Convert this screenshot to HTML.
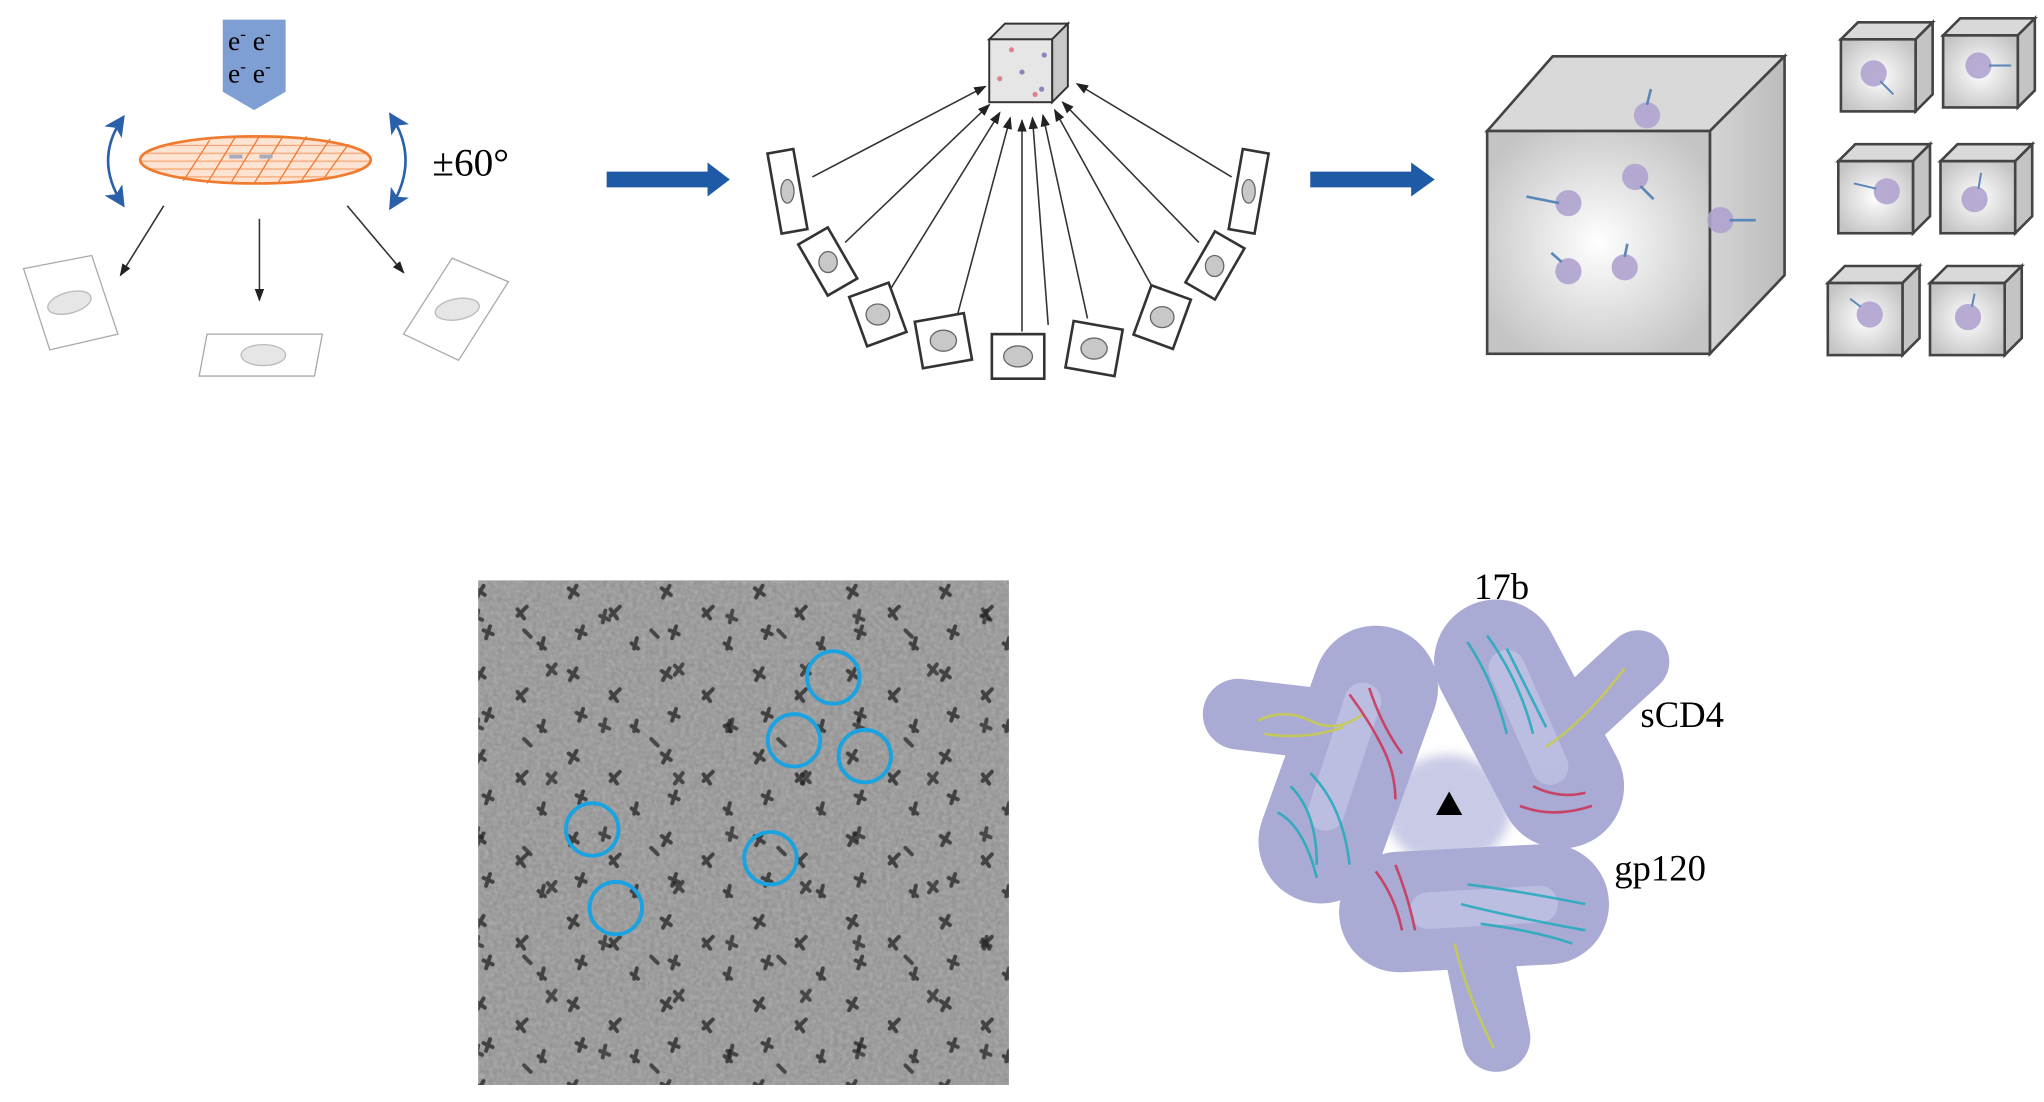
<!DOCTYPE html>
<html><head><meta charset="utf-8"><style>
html,body{margin:0;padding:0;background:#fff;width:2044px;height:1102px;overflow:hidden}
svg{display:block}
text{font-family:"Liberation Serif",serif}
</style></head><body>
<svg width="2044" height="1102" viewBox="0 0 1560 841" preserveAspectRatio="none" xmlns="http://www.w3.org/2000/svg">
<defs>
<pattern id="hatch" width="10" height="6" patternUnits="userSpaceOnUse">
<rect width="10" height="6" fill="#fde3d2"/><line x1="0" y1="3" x2="10" y2="3" stroke="#f6a878" stroke-width="1"/>
</pattern>
<radialGradient id="cg" cx="50%" cy="50%" r="60%"><stop offset="0" stop-color="#fff"/><stop offset="1" stop-color="#c4c4c4"/></radialGradient>
<linearGradient id="side" x1="0" x2="1"><stop offset="0" stop-color="#d4d4d4"/><stop offset="1" stop-color="#bcbcbc"/></linearGradient>
<marker id="ah" markerWidth="8" markerHeight="8" refX="7" refY="4" orient="auto"><path d="M0,1 L8,4 L0,7z" fill="#222"/></marker>
<marker id="bh" markerWidth="8" markerHeight="8" refX="6" refY="4" orient="auto-start-reverse"><path d="M0,0 L8,4 L0,8 L2,4z" fill="#2a5faa"/></marker>
<filter id="noise" x="0" y="0" width="100%" height="100%">
<feTurbulence type="fractalNoise" baseFrequency="0.3" numOctaves="2" seed="3"/>
<feColorMatrix type="matrix" values="0 0 0 0 0.5  0 0 0 0 0.5  0 0 0 0 0.5  0.9 0 0 0 -0.2"/>
</filter>
<filter id="soft"><feGaussianBlur stdDeviation="4"/></filter>
<pattern id="parts" width="71" height="63" patternUnits="userSpaceOnUse">
<g stroke="#1a1a1a" stroke-width="3" stroke-linecap="round">
<path d="M8,8 l7,5 M14,6 l-5,9"/><path d="M40,24 l5,7 M47,22 l-7,7"/>
<path d="M14,40 l7,3 M19,37 l-3,9"/><path d="M56,50 l5,4 M60,46 l-2,8"/>
</g></pattern>
<pattern id="parts2" width="97" height="83" patternUnits="userSpaceOnUse">
<g stroke="#222" stroke-width="3" stroke-linecap="round">
<path d="M30,10 l6,6 M36,9 l-6,8"/><path d="M70,55 l7,3 M74,51 l-2,9"/><path d="M12,66 l5,5"/>
</g></pattern>
</defs>

<!-- e- beam -->
<path d="M170,15 H218 V70 L194,84 L170,70 Z" fill="#7f9fd4"/>
<text x="174" y="38" font-size="21">e<tspan dy="-8" font-size="13">-</tspan><tspan dy="8"> e</tspan><tspan dy="-8" font-size="13">-</tspan></text>
<text x="174" y="63" font-size="21">e<tspan dy="-8" font-size="13">-</tspan><tspan dy="8"> e</tspan><tspan dy="-8" font-size="13">-</tspan></text>
<!-- grid -->
<ellipse cx="195" cy="122" rx="88" ry="18" fill="url(#hatch)" stroke="#f07a30" stroke-width="2"/>
<g stroke="#f07a30" stroke-width="1"><path d="M140,138 L160,107 M158,140 L180,104 M176,140 L198,104 M194,140 L216,104 M212,140 L234,104 M230,138 L252,106 M248,135 L266,110"/></g>
<rect x="175" y="118" width="10" height="3" fill="#aab"/><rect x="198" y="118" width="10" height="3" fill="#aab"/>
<!-- rotation arrows -->
<path d="M93,91 Q72,122 93,155" fill="none" stroke="#2a5faa" stroke-width="2" marker-start="url(#bh)" marker-end="url(#bh)"/>
<path d="M299,89 Q320,122 299,157" fill="none" stroke="#2a5faa" stroke-width="2" marker-start="url(#bh)" marker-end="url(#bh)"/>
<text x="330" y="134" font-size="30">±60°</text>
<!-- projection lines -->
<g stroke="#333" stroke-width="1.2" marker-end="url(#ah)"><line x1="125" y1="157" x2="92" y2="210"/><line x1="198" y1="167" x2="198" y2="229"/><line x1="265" y1="157" x2="308" y2="208"/></g>
<g fill="none" stroke="#aaa" stroke-width="1"><path d="M18,205 L70,195 L90,255 L38,267Z"/><path d="M158,255 L246,255 L240,287 L152,287Z"/><path d="M345,197 L388,215 L350,275 L308,255Z"/></g>
<g fill="#e6e6e6" stroke="#bbb"><ellipse cx="53" cy="231" rx="17" ry="8" transform="rotate(-15 53 231)"/><ellipse cx="201" cy="271" rx="17" ry="8"/><ellipse cx="349" cy="236" rx="17" ry="8" transform="rotate(-10 349 236)"/></g>
<!-- blue arrows -->
<path d="M463,131 H540 V124 L557,137 L540,150 V143 H463Z" fill="#1f5aa6"/>
<path d="M1000,131 H1077 V124 L1095,137 L1077,150 V143 H1000Z" fill="#1f5aa6"/>
<!-- small cube -->
<g stroke="#333" stroke-width="1.5" fill="#e6e6e6"><path d="M755,30 L767,18 L815,18 L803,30Z" fill="#ddd"/><path d="M803,30 L815,18 L815,66 L803,78Z" fill="#c8c8c8"/><rect x="755" y="30" width="48" height="48"/></g>
<g fill="#d88"><circle cx="763" cy="60" r="2"/><circle cx="790" cy="72" r="2"/><circle cx="772" cy="38" r="2"/></g>
<g fill="#88b"><circle cx="797" cy="42" r="2"/><circle cx="780" cy="55" r="2"/><circle cx="795" cy="68" r="2"/></g>
<!-- fan -->
<g stroke="#333" stroke-width="1.2" marker-end="url(#ah)">
<line x1="620" y1="135" x2="752" y2="66"/><line x1="645" y1="185" x2="755" y2="80"/><line x1="680" y1="220" x2="763" y2="86"/><line x1="730" y1="243" x2="771" y2="90"/><line x1="780" y1="253" x2="780" y2="92"/><line x1="800" y1="248" x2="788" y2="90"/><line x1="830" y1="243" x2="796" y2="88"/><line x1="880" y1="220" x2="805" y2="84"/><line x1="915" y1="185" x2="811" y2="78"/><line x1="940" y1="135" x2="822" y2="64"/></g>
<g fill="#fff" stroke="#333" stroke-width="2">
<rect x="591" y="115" width="20" height="62" transform="rotate(-10 601 146)"/>
<rect x="619" y="177" width="26" height="45" transform="rotate(-30 632 200)"/>
<rect x="654" y="220" width="32" height="40" transform="rotate(-20 670 240)"/>
<rect x="701" y="242" width="38" height="36" transform="rotate(-10 720 260)"/>
<rect x="757" y="255" width="40" height="34"/>
<rect x="816" y="248" width="38" height="36" transform="rotate(10 835 266)"/>
<rect x="871" y="222" width="32" height="40" transform="rotate(20 887 242)"/>
<rect x="914" y="180" width="26" height="45" transform="rotate(30 927 203)"/>
<rect x="943" y="115" width="20" height="62" transform="rotate(10 953 146)"/></g>
<g fill="#c8c8c8" stroke="#666"><ellipse cx="601" cy="146" rx="5" ry="9"/><ellipse cx="632" cy="200" rx="7" ry="8"/><ellipse cx="670" cy="240" rx="9" ry="8"/><ellipse cx="720" cy="260" rx="10" ry="8"/><ellipse cx="777" cy="272" rx="11" ry="8"/><ellipse cx="835" cy="266" rx="10" ry="8"/><ellipse cx="887" cy="242" rx="9" ry="8"/><ellipse cx="927" cy="203" rx="7" ry="8"/><ellipse cx="953" cy="146" rx="5" ry="9"/></g>
<!-- big cube -->
<g stroke="#444" stroke-width="2"><path d="M1135,100 L1185,43 L1362,43 L1305,100Z" fill="#d9d9d9"/><path d="M1305,100 L1362,43 L1362,210 L1305,270Z" fill="url(#side)"/><rect x="1135" y="100" width="170" height="170" fill="url(#cg)"/></g>
<g fill="#b0a3d0" opacity="0.9"><circle cx="1257" cy="88" r="10"/><circle cx="1248" cy="135" r="10"/><circle cx="1197" cy="207" r="10"/><circle cx="1240" cy="204" r="10"/><circle cx="1313" cy="168" r="10"/><circle cx="1197" cy="155" r="10"/></g>
<g stroke="#5a86b8" stroke-width="2"><line x1="1257" y1="80" x2="1260" y2="68"/><line x1="1190" y1="155" x2="1165" y2="150"/><line x1="1320" y1="168" x2="1340" y2="168"/><line x1="1252" y1="142" x2="1262" y2="152"/><line x1="1192" y1="200" x2="1184" y2="193"/><line x1="1240" y1="196" x2="1242" y2="186"/></g>
<!-- small cubes -->
<g stroke="#444" stroke-width="2">
<g><path d="M1405,30 L1418,17 L1475,17 L1462,30Z" fill="#d9d9d9"/><path d="M1462,30 L1475,17 L1475,72 L1462,85Z" fill="#c4c4c4"/><rect x="1405" y="30" width="57" height="55" fill="url(#cg)"/></g>
<g transform="translate(78,-3)"><path d="M1405,30 L1418,17 L1475,17 L1462,30Z" fill="#d9d9d9"/><path d="M1462,30 L1475,17 L1475,72 L1462,85Z" fill="#c4c4c4"/><rect x="1405" y="30" width="57" height="55" fill="url(#cg)"/></g>
<g transform="translate(-2,93)"><path d="M1405,30 L1418,17 L1475,17 L1462,30Z" fill="#d9d9d9"/><path d="M1462,30 L1475,17 L1475,72 L1462,85Z" fill="#c4c4c4"/><rect x="1405" y="30" width="57" height="55" fill="url(#cg)"/></g>
<g transform="translate(76,93)"><path d="M1405,30 L1418,17 L1475,17 L1462,30Z" fill="#d9d9d9"/><path d="M1462,30 L1475,17 L1475,72 L1462,85Z" fill="#c4c4c4"/><rect x="1405" y="30" width="57" height="55" fill="url(#cg)"/></g>
<g transform="translate(-10,186)"><path d="M1405,30 L1418,17 L1475,17 L1462,30Z" fill="#d9d9d9"/><path d="M1462,30 L1475,17 L1475,72 L1462,85Z" fill="#c4c4c4"/><rect x="1405" y="30" width="57" height="55" fill="url(#cg)"/></g>
<g transform="translate(68,186)"><path d="M1405,30 L1418,17 L1475,17 L1462,30Z" fill="#d9d9d9"/><path d="M1462,30 L1475,17 L1475,72 L1462,85Z" fill="#c4c4c4"/><rect x="1405" y="30" width="57" height="55" fill="url(#cg)"/></g>
</g>
<g fill="#b0a3d0" opacity="0.9"><circle cx="1430" cy="56" r="10"/><circle cx="1510" cy="50" r="10"/><circle cx="1440" cy="146" r="10"/><circle cx="1507" cy="152" r="10"/><circle cx="1427" cy="240" r="10"/><circle cx="1502" cy="242" r="10"/></g>
<g stroke="#5a86b8" stroke-width="1.5"><line x1="1435" y1="62" x2="1445" y2="72"/><line x1="1518" y1="50" x2="1535" y2="50"/><line x1="1432" y1="144" x2="1415" y2="140"/><line x1="1510" y1="144" x2="1512" y2="132"/><line x1="1420" y1="234" x2="1412" y2="228"/><line x1="1505" y1="234" x2="1507" y2="224"/></g>
<!-- micrograph -->
<rect x="365" y="443" width="405" height="385" fill="#939393"/>
<rect x="365" y="443" width="405" height="385" filter="url(#noise)"/>
<rect x="365" y="443" width="405" height="385" fill="url(#parts)" opacity="0.7"/>
<rect x="365" y="443" width="405" height="385" fill="url(#parts2)" opacity="0.7"/>
<g fill="none" stroke="#1aa3e0" stroke-width="3"><circle cx="636" cy="517" r="20"/><circle cx="606" cy="565" r="20"/><circle cx="660" cy="577" r="20"/><circle cx="452" cy="633" r="20"/><circle cx="588" cy="655" r="20"/><circle cx="470" cy="693" r="20"/></g>
<!-- protein -->
<ellipse cx="1105" cy="618" rx="48" ry="42" fill="#c9cbe6" filter="url(#soft)"/>
<g stroke="#a9abd5" stroke-linecap="round" stroke-linejoin="round" fill="none">
<path d="M945,545 L1030,555" stroke-width="54"/><path d="M1050,525 L1008,642" stroke-width="95"/>
<path d="M1142,505 L1192,600" stroke-width="95"/><path d="M1185,565 L1250,505" stroke-width="48"/>
<path d="M1068,696 L1182,690" stroke-width="92"/><path d="M1125,710 L1142,792" stroke-width="52"/>
</g>
<g stroke="#c4c6e6" stroke-linecap="round" fill="none" opacity="0.7">
<path d="M1040,535 L1012,620" stroke-width="28"/><path d="M1150,510 L1183,585" stroke-width="28"/><path d="M1090,695 L1175,690" stroke-width="28"/>
</g>
<g fill="none" stroke-width="2" opacity="0.85">
<path d="M960,550 q20,-10 40,0 t40,-5 M965,560 q30,5 60,-5" stroke="#c8cc4a"/>
<path d="M1030,530 q15,20 25,40 t10,40 M1045,525 q10,30 25,50" stroke="#cc3355"/>
<path d="M985,600 q20,20 20,60 M1000,590 q25,25 30,70 M975,620 q20,10 30,50" stroke="#22aabb"/>
<path d="M1120,490 q20,30 30,70 M1135,485 q25,35 35,75 M1150,495 q15,30 30,60" stroke="#22aabb"/>
<path d="M1180,570 q30,-20 60,-60" stroke="#c8cc4a"/>
<path d="M1170,600 q20,10 40,5 M1160,615 q25,10 55,0" stroke="#cc3355"/>
<path d="M1120,675 q40,5 90,15 M1115,690 q40,10 95,20 M1130,705 q40,5 70,15" stroke="#22aabb"/>
<path d="M1050,665 q15,20 20,45 M1065,660 q10,25 15,50" stroke="#cc3355"/>
<path d="M1110,720 q10,40 30,80" stroke="#c8cc4a"/>
</g>
<path d="M1106,604 L1116,622 L1096,622Z" fill="#000"/>
<text x="1125" y="457" font-size="28">17b</text>
<text x="1252" y="555" font-size="28">sCD4</text>
<text x="1232" y="672" font-size="28">gp120</text>
</svg>
</body></html>
